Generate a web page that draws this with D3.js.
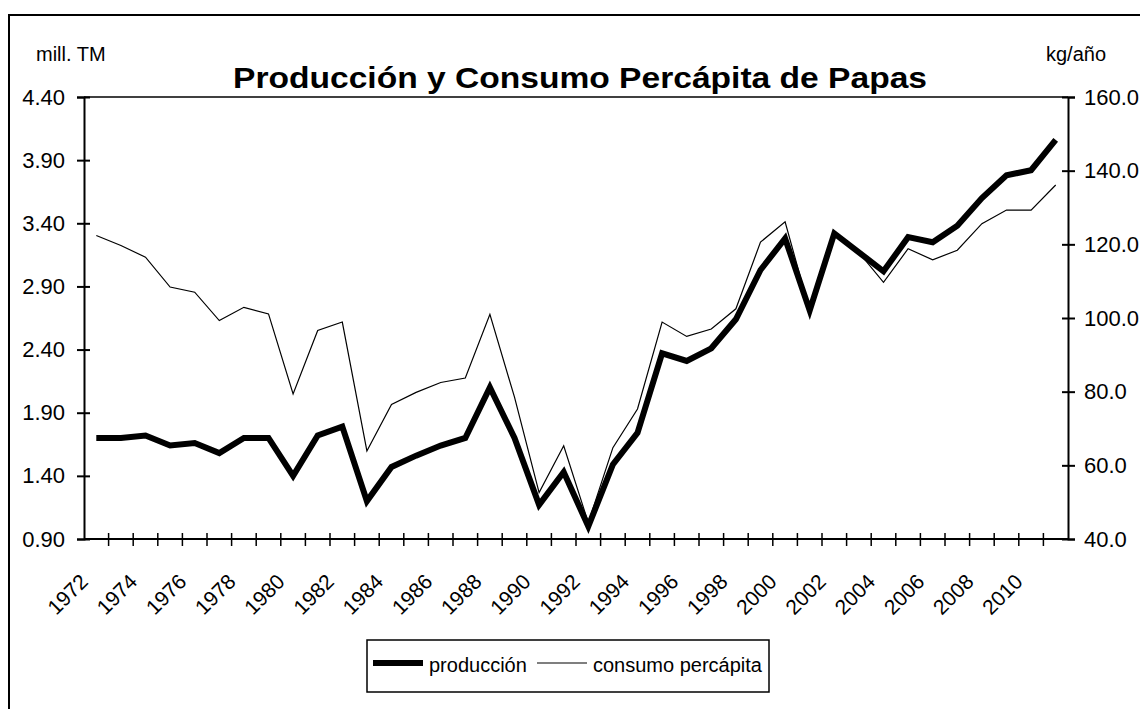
<!DOCTYPE html>
<html>
<head>
<meta charset="utf-8" />
<style>
  body { margin: 0; background: #fff; }
  svg { display: block; font-family: "Liberation Sans", Arial, sans-serif; }
</style>
<title>Producción y Consumo Percápita de Papas</title>
</head>
<body>
<script src="https://cdn.jsdelivr.net/npm/d3@7"></script>
<script>
// years on the category axis
var years = [1972, 1973, 1974, 1975, 1976, 1977, 1978, 1979, 1980, 1981,
             1982, 1983, 1984, 1985, 1986, 1987, 1988, 1989, 1990, 1991,
             1992, 1993, 1994, 1995, 1996, 1997, 1998, 1999, 2000, 2001,
             2002, 2003, 2004, 2005, 2006, 2007, 2008, 2009, 2010, 2011];

// production, mill. TM (left axis)
var produccion = [1.70, 1.70, 1.72, 1.64, 1.66, 1.58, 1.70, 1.70, 1.40, 1.72,
                  1.79, 1.20, 1.47, 1.56, 1.64, 1.70, 2.10, 1.70, 1.17, 1.43,
                  1.00, 1.49, 1.74, 2.37, 2.31, 2.41, 2.64, 3.03, 3.28, 2.71,
                  3.32, 3.17, 3.02, 3.29, 3.25, 3.38, 3.60, 3.78, 3.82, 4.06];

// consumption per capita, kg/año (right axis)
var consumo = [122.4, 119.7, 116.5, 108.4, 107.0, 99.3, 102.9, 101.1, 79.4, 96.6,
               98.9, 63.9, 76.5, 79.8, 82.5, 83.7, 101.0, 78.5, 52.6, 65.3,
               44.4, 64.8, 75.3, 98.9, 95.0, 97.0, 102.5, 120.6, 126.1, 102.0,
               123.0, 117.8, 109.7, 118.8, 115.8, 118.4, 125.6, 129.3, 129.3, 136.1];

var leftTicks = [0.90, 1.40, 1.90, 2.40, 2.90, 3.40, 3.90, 4.40];
var rightTicks = [40, 60, 80, 100, 120, 140, 160];
var xLabels = years.filter((y) => y % 2 === 0);

var W = 1140, H = 709;
var plot = { left: 84, right: 1068, top: 97, bottom: 539 };

var svg = d3.select("body").append("svg").attr("width", W).attr("height", H);

// outer chart frame (runs off the right and bottom of the picture)
svg.append("rect")
  .attr("x", 9).attr("y", 15).attr("width", 1200).attr("height", 800)
  .attr("fill", "none").attr("stroke", "#000").attr("stroke-width", 2);

var x = d3.scaleBand().domain(years).range([plot.left, plot.right]).padding(0);
var yL = d3.scaleLinear().domain([0.9, 4.4]).range([plot.bottom, plot.top]);
var yR = d3.scaleLinear().domain([40, 160]).range([plot.bottom, plot.top]);
var cx = (d) => x(d) + x.bandwidth() / 2;

// plot area top border
svg.append("line")
  .attr("x1", plot.left).attr("x2", plot.right)
  .attr("y1", plot.top).attr("y2", plot.top)
  .attr("stroke", "#000").attr("stroke-width", 1.5);

// left axis
var gL = svg.append("g")
  .attr("transform", `translate(${plot.left},0)`)
  .call(d3.axisLeft(yL).tickValues(leftTicks).tickFormat(d3.format(".2f")).tickSize(7).tickPadding(12));
gL.select(".domain").attr("stroke-width", 2);
gL.selectAll(".tick line").attr("x2", -7).attr("x1", 6).attr("stroke-width", 2);
gL.selectAll(".tick text").attr("font-size", 22).attr("fill", "#000")
  .attr("font-family", "Liberation Sans, Arial, sans-serif");

// right axis
var gR = svg.append("g")
  .attr("transform", `translate(${plot.right},0)`)
  .call(d3.axisRight(yR).tickValues(rightTicks).tickFormat(d3.format(".1f")).tickSize(7).tickPadding(9));
gR.select(".domain").attr("stroke-width", 2);
gR.selectAll(".tick line").attr("x1", -6).attr("x2", 7).attr("stroke-width", 2);
gR.selectAll(".tick text").attr("font-size", 22).attr("fill", "#000")
  .attr("font-family", "Liberation Sans, Arial, sans-serif");

// bottom axis: line plus ticks between categories
svg.append("line")
  .attr("x1", plot.left).attr("x2", plot.right)
  .attr("y1", plot.bottom).attr("y2", plot.bottom)
  .attr("stroke", "#000").attr("stroke-width", 2);

svg.append("g").selectAll("line")
  .data(years.slice(1))
  .join("line")
  .attr("x1", (d) => x(d)).attr("x2", (d) => x(d))
  .attr("y1", plot.bottom - 6).attr("y2", plot.bottom + 7)
  .attr("stroke", "#000").attr("stroke-width", 1.5);

svg.append("g").selectAll("text")
  .data(xLabels)
  .join("text")
  .attr("transform", (d) => `translate(${cx(d) - 7},${plot.bottom + 44}) rotate(-45)`)
  .attr("text-anchor", "end")
  .attr("font-size", 21)
  .text((d) => d);

// series
var lineProd = d3.line().x((d, i) => cx(years[i])).y((d) => yL(d));
var lineCons = d3.line().x((d, i) => cx(years[i])).y((d) => yR(d));

svg.append("path")
  .datum(produccion)
  .attr("d", lineProd)
  .attr("fill", "none").attr("stroke", "#000").attr("stroke-width", 6)
  .attr("stroke-linejoin", "miter");

svg.append("path")
  .datum(consumo)
  .attr("d", lineCons)
  .attr("fill", "none").attr("stroke", "#000").attr("stroke-width", 1.2);

// titles
svg.append("text")
  .attr("x", 233).attr("y", 88)
  .attr("font-size", 30).attr("font-weight", "bold")
  .attr("textLength", 694).attr("lengthAdjust", "spacingAndGlyphs")
  .text("Producción y Consumo Percápita de Papas");

svg.append("text").attr("x", 36).attr("y", 61).attr("font-size", 20).text("mill. TM");
svg.append("text").attr("x", 1046).attr("y", 61).attr("font-size", 20).text("kg/año");

// legend
var legend = svg.append("g");
legend.append("rect")
  .attr("x", 367).attr("y", 640).attr("width", 402).attr("height", 52)
  .attr("fill", "#fff").attr("stroke", "#000").attr("stroke-width", 1.5);

var legendItems = [
  { label: "producción", width: 6, x: 373 },
  { label: "consumo percápita", width: 1.2, x: 537 }
];
var li = legend.selectAll("g.item").data(legendItems).join("g").attr("class", "item");
li.append("line")
  .attr("x1", (d) => d.x).attr("x2", (d) => d.x + 50)
  .attr("y1", 663).attr("y2", 663)
  .attr("stroke", "#000").attr("stroke-width", (d) => d.width);
li.append("text")
  .attr("x", (d) => d.x + 56).attr("y", 672)
  .attr("font-size", 20)
  .text((d) => d.label);
</script>
</body>
</html>
